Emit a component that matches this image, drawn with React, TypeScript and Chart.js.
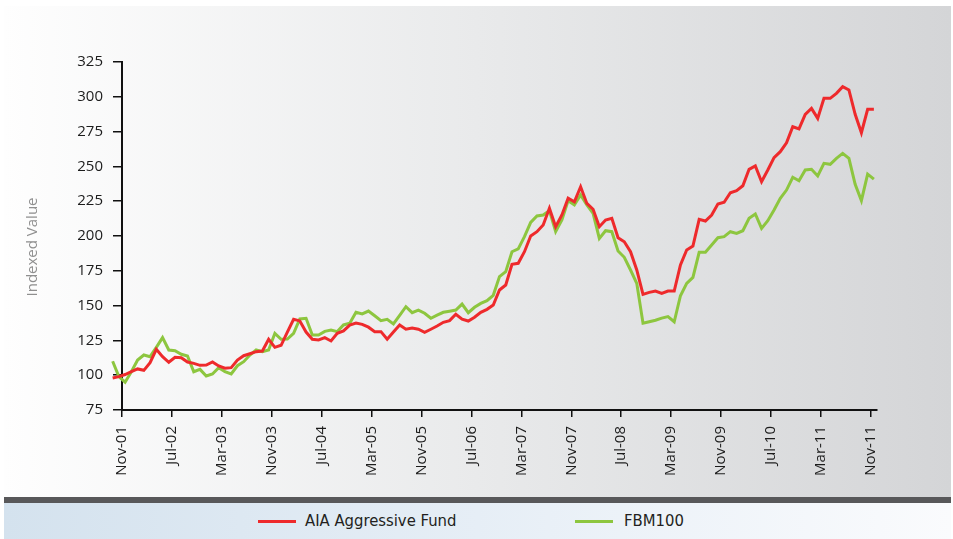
import React, { useEffect, useRef } from "react";
import { Chart, registerables } from "chart.js";

Chart.register(...registerables);

// ---- Data (monthly index values, first point ~1.5 months before Nov-01) ----
const SERIES_NAMES = ["AIA Aggressive Fund", "FBM100"];
const SERIES_COLORS = ["#ee2a2c", "#8dc63f"];

const X_TICK_LABELS = [
  "Nov-01", "Jul-02", "Mar-03", "Nov-03", "Jul-04", "Mar-05", "Nov-05", "Jul-06",
  "Mar-07", "Nov-07", "Jul-08", "Mar-09", "Nov-09", "Jul-10", "Mar-11", "Nov-11",
];
const MONTHS_PER_TICK = 8;
const FIRST_POINT_MONTH = -1.5;
const X_MAX_MONTH = 121;

const Y_MIN = 75;
const Y_MAX = 325;
const Y_STEP = 25;
const Y_TITLE = "Indexed Value";

const AIA_FUND = [
  98, 99, 100.5, 102.5, 104.5, 103.5, 109, 118.6, 113.3, 109.3,
  112.9, 112.6, 109.5, 108.5, 107.1, 107.3, 109.5, 106.6, 105, 105.4,
  110.9, 114, 115.4, 116.9, 117.4, 125.8, 120, 121.5, 131, 140.2,
  139, 131, 125.8, 125.3, 127, 124.6, 130.1, 131.8, 136, 137.5,
  136.5, 134.5, 131.3, 131.3, 125.8, 131, 136.1, 133, 133.9, 133,
  130.8, 133, 135.3, 138, 139.2, 143.8, 140.2, 138.9, 141.6, 145.2,
  147.3, 150.4, 161.2, 164.8, 179.7, 180.4, 188.7, 200, 203.1, 207.9,
  219.9, 206.7, 215.1, 227.1, 224.6, 235.4, 223.4, 219.2, 206.7, 211.5,
  212.7, 198.8, 195.9, 188.7, 175.6, 158.1, 159.5, 160.5, 158.8, 160.5,
  160.5, 179.2, 190, 192.8, 212, 210.8, 215.1, 223, 224.2, 231.1,
  232.5, 236.1, 247.9, 250.3, 239, 247.4, 256.3, 260.6, 267, 278.5,
  276.9, 287.4, 291.7, 284.5, 298.9, 298.9, 302.5, 307.3, 304.9, 287.4,
  274.2, 291, 291,
];

const FBM100 = [
  110, 99, 95, 102.5, 110.9, 114.5, 113.3, 120, 127, 118.1,
  117.6, 115, 113.8, 102.5, 104.2, 99.4, 100.9, 105.4, 102.5, 100.9,
  106.8, 109.7, 114.5, 118.1, 116.9, 118.1, 130.1, 125.8, 126, 130.1,
  140.4, 140.9, 128.9, 128.9, 131.5, 132.5, 131.3, 136.1, 137.3, 145.2,
  144, 146.1, 142.7, 139.2, 140.2, 136.8, 143, 149.2, 144.9, 146.8,
  144.5, 140.9, 143.2, 145.2, 146, 146.8, 151.1, 144.9, 148.8, 151.6,
  153.5, 157.4, 170.8, 174.4, 188.7, 190.7, 199.5, 209.8, 214.4, 215.1,
  218.2, 203.1, 211.5, 225.4, 222.3, 229.5, 222.3, 216.3, 198.3, 203.8,
  203.1, 189.2, 184.7, 175.6, 166, 137.3, 138.4, 139.5, 141, 142.1,
  138.4, 157.1, 166, 170.3, 188.3, 188.3, 193.5, 198.8, 199.5, 203.1,
  201.9, 203.8, 212.7, 215.8, 205.5, 211, 218.7, 227.1, 233, 242.2,
  239.7, 247.4, 247.9, 243.1, 252.2, 251.5, 255.8, 259.4, 255.8, 237.1,
  225.4, 244.5, 240.9,
];

const SERIES_VALUES = [AIA_FUND, FBM100];

const TICK_FONT = "'Open Sans', 'DejaVu Sans', sans-serif";
const LEGEND_FONT = "'DejaVu Sans Condensed', 'DejaVu Sans', sans-serif";

export default function App() {
  const canvasRef = useRef<HTMLCanvasElement | null>(null);

  useEffect(() => {
    document.body.style.margin = "0";
    const canvas = canvasRef.current;
    if (!canvas) return;

    const yTitlePlugin = {
      id: "yTitlePlugin",
      afterDraw(chart: any) {
        const c = chart.ctx;
        c.save();
        c.translate(29, 241);
        c.rotate(-Math.PI / 2);
        c.font = `15px ${TICK_FONT}`;
        c.fillStyle = "#8f8f8f";
        c.textAlign = "center";
        c.textBaseline = "middle";
        c.fillText(Y_TITLE, 0, 0);
        c.restore();
      },
    };

    const chart = new Chart(canvas, {
      type: "line",
      data: {
        datasets: SERIES_VALUES.map((vals, s) => ({
          label: SERIES_NAMES[s],
          data: vals.map((v, i) => ({ x: FIRST_POINT_MONTH + i, y: v })),
          borderColor: SERIES_COLORS[s],
          backgroundColor: SERIES_COLORS[s],
          borderWidth: 3,
          pointRadius: 0,
          pointHoverRadius: 0,
          tension: 0,
          clip: false as any,
          borderJoinStyle: "miter" as const,
        })),
      },
      options: {
        animation: false,
        responsive: false,
        events: [],
        layout: { padding: { left: 0, top: 56, right: 74, bottom: 0 } },
        plugins: {
          legend: { display: false },
          tooltip: { enabled: false },
        },
        scales: {
          x: {
            type: "linear",
            bounds: "data",
            afterBuildTicks: (axis: any) => {
              axis.min = 0;
              axis.max = X_MAX_MONTH;
              axis.ticks = X_TICK_LABELS.map((_, j) => ({ value: j * MONTHS_PER_TICK }));
            },
            afterFit: (axis: any) => {
              axis.height = 87;
            },
            ticks: {
              autoSkip: false,
              maxRotation: 90,
              minRotation: 90,
              padding: 9,
              color: "#1c1c1c",
              font: { family: TICK_FONT, size: 15 },
              callback: (_v: any, idx: number) => X_TICK_LABELS[idx],
            },
            grid: {
              drawOnChartArea: false,
              drawTicks: true,
              tickLength: 7,
              tickColor: "#111111",
              lineWidth: 1.5,
            },
            border: { display: true, color: "#111111", width: 2 },
          },
          y: {
            type: "linear",
            min: Y_MIN,
            max: Y_MAX,
            afterFit: (axis: any) => {
              axis.width = 118;
            },
            ticks: {
              stepSize: Y_STEP,
              padding: 10,
              color: "#1c1c1c",
              font: { family: TICK_FONT, size: 15 },
            },
            grid: {
              drawOnChartArea: false,
              drawTicks: true,
              tickLength: 9,
              tickColor: "#111111",
              lineWidth: 1.5,
            },
            border: { display: true, color: "#111111", width: 2 },
          },
        },
      },
      plugins: [yTitlePlugin],
    });

    return () => chart.destroy();
  }, []);

  const legendItems = [
    { lineLeft: 258, textLeft: 305 },
    { lineLeft: 575, textLeft: 624 },
  ];

  return (
    <div style={{ position: "relative", width: 953, height: 539, background: "#ffffff", overflow: "hidden" }}>
      <div
        style={{
          position: "absolute", left: 4, top: 6, width: 947, height: 491,
          background: "linear-gradient(to right, #fefefe 0%, #e9eaeb 50%, #d4d5d7 100%)",
        }}
      />
      <div style={{ position: "absolute", left: 4, top: 497, width: 947, height: 6, background: "#58585a" }} />
      <div
        style={{
          position: "absolute", left: 4, top: 503, width: 947, height: 36,
          background: "linear-gradient(to right, #d4e2ee 0%, #e6eef6 50%, #fafbfd 100%)",
        }}
      />
      <canvas
        ref={canvasRef}
        width={947}
        height={491}
        style={{ position: "absolute", left: 4, top: 6, width: 947, height: 491 }}
      />
      {SERIES_NAMES.map((name, s) => (
        <React.Fragment key={name}>
          <div
            style={{
              position: "absolute", left: legendItems[s].lineLeft, top: 519.5,
              width: 38, height: 3, background: SERIES_COLORS[s],
            }}
          />
          <div
            style={{
              position: "absolute", left: legendItems[s].textLeft, top: 510, height: 22,
              lineHeight: "22px", fontFamily: LEGEND_FONT, fontSize: 16.5, color: "#231f20",
              whiteSpace: "nowrap",
            }}
          >
            {name}
          </div>
        </React.Fragment>
      ))}
    </div>
  );
}
